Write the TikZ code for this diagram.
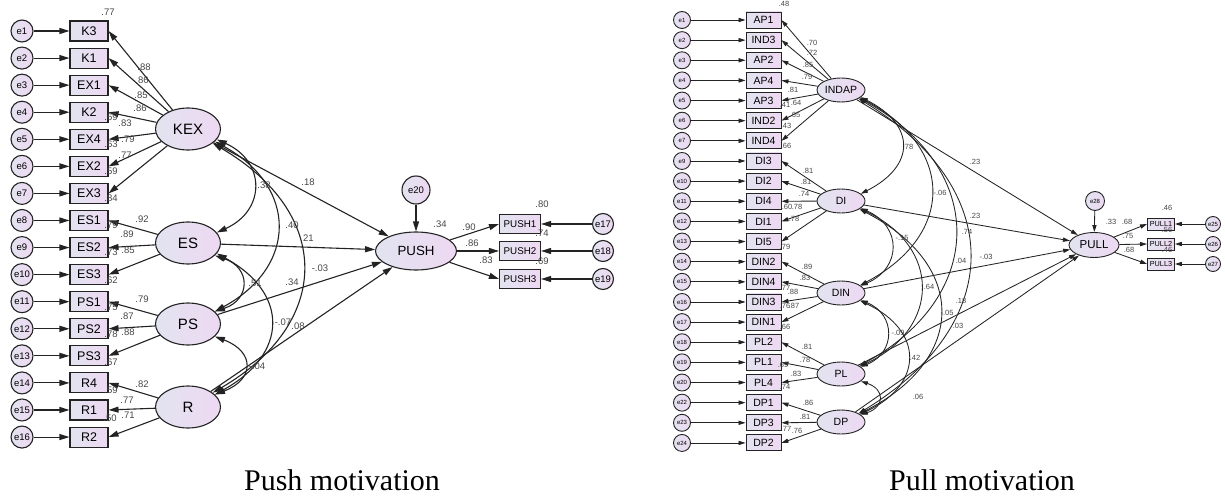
\documentclass[tikz,border=0pt]{standalone}
\usepackage{fontspec}
\setmainfont{Liberation Sans}
\newfontfamily\capfont{Liberation Serif}
\usetikzlibrary{shapes.geometric,arrows.meta,calc}
\definecolor{fillA}{RGB}{226,228,240}
\definecolor{fillB}{RGB}{238,216,242}
\definecolor{ln}{RGB}{35,35,35}
\definecolor{numc}{RGB}{70,70,70}
\begin{document}
\begin{tikzpicture}[x=1pt,y=-1pt,
  fs/.style={left color=fillA,right color=fillB},
  lbox/.style={draw=ln,line width=1.1pt,fs,minimum width=38pt,minimum height=20pt,inner sep=0pt,font=\fontsize{12.5}{13}\selectfont},
  lerr/.style={circle,draw=ln,line width=1.1pt,fs,minimum size=22pt,inner sep=0pt,font=\fontsize{9.5}{10}\selectfont},
  llat/.style={ellipse,draw=ln,line width=1.1pt,fs,minimum width=65pt,minimum height=42pt,inner sep=0pt,font=\fontsize{15}{16}\selectfont},
  larr/.style={draw=ln,line width=1.1pt,-{Triangle[length=10pt,width=6pt]}},
  lcov/.style={draw=ln,line width=1.1pt,{Triangle[length=10pt,width=6pt]}-{Triangle[length=10pt,width=6pt]}},
  lnum/.style={text=numc,inner sep=0pt,font=\fontsize{9.5}{10}\selectfont},
  rbox/.style={draw=ln,line width=0.9pt,fs,minimum width=35pt,minimum height=16pt,inner sep=0pt,font=\fontsize{10.5}{11}\selectfont},
  rerr/.style={circle,draw=ln,line width=0.9pt,fs,minimum size=17pt,inner sep=0pt,font=\fontsize{6}{6}\selectfont},
  rlat/.style={ellipse,draw=ln,line width=0.9pt,fs,minimum width=48pt,minimum height=24pt,inner sep=0pt,font=\fontsize{10.5}{11}\selectfont},
  rarr/.style={draw=ln,line width=0.85pt,-{Triangle[length=7pt,width=4.2pt]}},
  rcov/.style={draw=ln,line width=0.85pt,{Triangle[length=7pt,width=4.2pt]}-{Triangle[length=7pt,width=4.2pt]}},
  rnum/.style={text=numc,inner sep=0pt,font=\fontsize{7.5}{8}\selectfont},
  capt/.style={anchor=base,inner sep=0pt,font=\capfont\fontsize{30}{32}\selectfont}
]
\useasboundingbox (0,0) rectangle (1225,497);

% ================= LEFT: PUSH =================
\foreach \lab [count=\i from 0] in {K3,K1,EX1,K2,EX4,EX2,EX3,ES1,ES2,ES3,PS1,PS2,PS3,R4,R1,R2}{
  \pgfmathsetmacro\yy{31+27.07*\i}
  \pgfmathtruncatemacro\ee{\i+1}
  \node[lbox] (L\i) at (89,\yy) {\lab};
  \node[lerr] (Le\i) at (22,\yy) {e\ee};
  \draw[larr] (Le\i) -- (L\i);
}
\node[llat] (KEX) at (188,129) {KEX};
\node[llat] (ES) at (188,243) {ES};
\node[llat] (PS) at (188,324) {PS};
\node[llat] (R) at (188,407) {R};
\node[llat,minimum width=81pt,minimum height=38pt,font=\fontsize{13.3}{14}\selectfont] (PUSH) at (416,251) {PUSH};
\node[lerr,minimum size=28pt] (e20) at (416,190) {e20};
\foreach \lab/\yy/\en in {PUSH1/224/17,PUSH2/251/18,PUSH3/279/19}{
  \node[lbox,minimum width=41pt,minimum height=19pt,font=\fontsize{9.8}{10}\selectfont] (\lab) at (520,\yy) {\lab};
  \node[lerr,minimum size=21pt] (e\en) at (603,\yy) {e\en};
  \draw[larr] (e\en) -- (\lab.east);
  \draw[larr] (PUSH) -- (\lab.west);
}
\draw[larr] (e20) -- (PUSH);
\foreach \i in {0,...,6}{\draw[larr] (KEX) -- (L\i.east);}
\foreach \i in {7,8,9}{\draw[larr] (ES) -- (L\i.east);}
\foreach \i in {10,11,12}{\draw[larr] (PS) -- (L\i.east);}
\foreach \i in {13,14,15}{\draw[larr] (R) -- (L\i.east);}
\foreach \s in {KEX,ES,PS,R}{\draw[larr] (\s) -- (PUSH);}
% covariances
\draw[lcov] (KEX.-20) .. controls +(49,22) and +(49,-22) .. (ES.20);
\draw[lcov] (KEX.-25) .. controls +(83,45) and +(83,-45) .. (PS.25);
\draw[lcov] (KEX.-30) .. controls +(120,70) and +(120,-70) .. (R.30);
\draw[lcov] (ES.-25) .. controls +(36,12) and +(36,-12) .. (PS.25);
\draw[lcov] (ES.-20) .. controls +(73,40) and +(73,-40) .. (R.25);
\draw[lcov] (PS.-25) .. controls +(40,15) and +(40,-15) .. (R.25);
% labels
\foreach \px/\py/\tx [count=\k] in {144/67/.88,142/80/.86,141/95/.85,140/108/.86,125/123/.83,128/139/.79,125/155/.77,
  142/219/.92,127/234/.89,128/250/.85,142/299/.79,127/316/.87,128/332/.88,142/384/.82,127/400/.77,128/415/.71,
  108/12/.77,111/117/.69,111/144/.63,111/171/.59,111/198/.84,111/225/.79,111/252/.73,111/280/.62,111/307/.75,111/334/.78,111/362/.67,111/390/.59,110/418/.50,
  264/185/.38,308/182/.18,292/225/.40,307/238/.21,320/268/-.03,292/282/.34,255/283/.51,283/322/-.07,298/326/.08,257/366/-.04,
  440/224/.34,469/227/.90,472/243/.86,486/260/.83,542/204/.80,542/233/.74,542/261/.69}{
  \node[lnum] (ln\k) at (\px,\py) {\tx};
}
\node[capt] (cap1) at (342,490) {Push motivation};

% ================= RIGHT: PULL =================
\foreach \lab/\en [count=\i from 0] in {AP1/1,IND3/2,AP2/3,AP4/4,AP3/5,IND2/6,IND4/7,DI3/9,DI2/10,DI4/11,DI1/12,DI5/13,DIN2/14,DIN4/15,DIN3/16,DIN1/17,PL2/18,PL1/19,PL4/20,DP1/22,DP3/23,DP2/24}{
  \pgfmathsetmacro\yy{20+20.14*\i}
  \node[rbox] (Q\i) at (763.5,\yy) {\lab};
  \node[rerr] (Qe\i) at (682,\yy) {e\en};
  \draw[rarr] (Qe\i) -- (Q\i);
}
\node[rlat] (INDAP) at (841,90) {INDAP};
\node[rlat] (DI) at (841,201) {DI};
\node[rlat] (DIN) at (841,293) {DIN};
\node[rlat] (PL) at (841,374) {PL};
\node[rlat] (DP) at (841,422) {DP};
\node[rlat,minimum width=50pt,minimum height=25pt,font=\fontsize{11.5}{12}\selectfont] (PULL) at (1094,245) {PULL};
\node[rerr,minimum size=19pt] (e28) at (1095,201) {e28};
\foreach \lab/\yy/\en in {PULL1/224/25,PULL2/244/26,PULL3/264/27}{
  \node[rbox,minimum width=27pt,minimum height=12pt,font=\fontsize{7.3}{8}\selectfont] (\lab) at (1161,\yy) {\lab};
  \node[rerr,minimum size=15pt] (e\en) at (1213,\yy) {e\en};
  \draw[rarr] (e\en) -- (\lab.east);
  \draw[rarr] (PULL) -- (\lab.west);
}
\draw[rarr] (e28) -- (PULL);
\foreach \i in {0,...,6}{\draw[rarr] (INDAP) -- (Q\i.east);}
\foreach \i in {7,...,11}{\draw[rarr] (DI) -- (Q\i.east);}
\foreach \i in {12,...,15}{\draw[rarr] (DIN) -- (Q\i.east);}
\foreach \i in {16,17,18}{\draw[rarr] (PL) -- (Q\i.east);}
\foreach \i in {19,20,21}{\draw[rarr] (DP) -- (Q\i.east);}
\foreach \s in {INDAP,DI,DIN,PL,DP}{\draw[rarr] (\s) -- (PULL);}
% covariances
\draw[rcov] (INDAP.-20) .. controls +(55,28) and +(55,-28) .. (DI.20);
\draw[rcov] (INDAP.-22) .. controls +(95,50) and +(95,-50) .. (DIN.22);
\draw[rcov] (INDAP.-24) .. controls +(128,70) and +(128,-70) .. (PL.24);
\draw[rcov] (INDAP.-26) .. controls +(148,90) and +(148,-90) .. (DP.26);
\draw[rcov] (DI.-20) .. controls +(41,18) and +(41,-18) .. (DIN.20);
\draw[rcov] (DI.-22) .. controls +(81,38) and +(81,-38) .. (PL.22);
\draw[rcov] (DI.-24) .. controls +(108,55) and +(108,-55) .. (DP.24);
\draw[rcov] (DIN.-20) .. controls +(35,14) and +(35,-14) .. (PL.20);
\draw[rcov] (DIN.-22) .. controls +(64,30) and +(64,-30) .. (DP.22);
\draw[rcov] (PL.-20) .. controls +(24,8) and +(24,-8) .. (DP.20);
% labels
\foreach \px/\py/\tx [count=\k] in {812/43/.70,812/53/.72,808/65/.85,807/77/.79,793/90/.81,796/103/.64,795/115/.65,
  784/4/.48,785/105/.41,786/126/.43,786/146/.66,
  808/171/.81,806/182/.81,804/194/.74,797/207/.78,794/219/.78,787/207/.60,
  807/267/.89,805/278/.83,793/292/.88,794/306/.87,785/247/.79,785/288/.77,785/306/.76,785/327/.66,
  807/347/.81,805/360/.78,796/374/.83,783/365/.69,785/387/.74,
  808/403/.86,805/417/.81,786/429/.77,797/431/.76,
  908/147/.78,975/162/.23,940/193/-.06,975/216/.23,967/232/.74,902/238/-.15,961/261/.04,986/257/-.03,
  929/287/.64,961/301/.18,947/313/-.05,898/333/-.09,958/326/.03,915/358/.42,918/397/.06,
  1111/222/.33,1127/222/.68,1128/236/.75,1129/250/.68,1167/208/.46,1167/230/.56,1167/250/.46}{
  \node[rnum] (rn\k) at (\px,\py) {\tx};
}
\node[capt] (cap2) at (982,490) {Pull motivation};
\end{tikzpicture}
\end{document}
